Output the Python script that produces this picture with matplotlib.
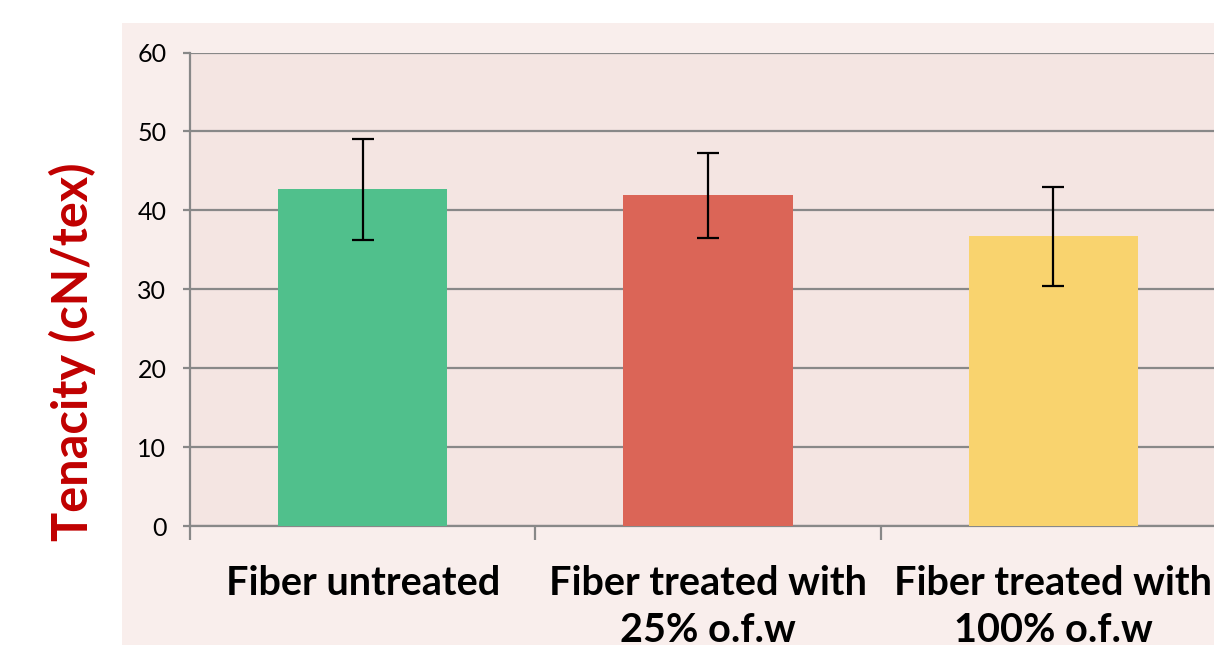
import numpy as np
import matplotlib.pyplot as plt
from matplotlib.patches import Rectangle

categories = ["Fiber untreated", "Fiber treated with\n25% o.f.w", "Fiber treated with\n100% o.f.w"]
tenacity = [42.7, 41.9, 36.7]
errors = [6.4, 5.4, 6.3]
colors = ["#50C08C", "#DB6557", "#F9D36E"]
yticks = [0, 10, 20, 30, 40, 50, 60]

W, H = 1214, 645
fig = plt.figure(figsize=(W / 100, H / 100), dpi=100)
fig.patches.append(Rectangle((122 / W, 0), 1 - 122 / W, 1 - 23 / H,
                             transform=fig.transFigure, facecolor="#F9EEEC",
                             edgecolor="none", zorder=-10))

ax = fig.add_axes([190 / W, (H - 526) / H, 1036 / W, (526 - 52.5) / H])
ax.set_facecolor("#F4E5E2")

x = np.arange(len(categories))
ax.bar(x, tenacity, width=0.49, color=colors, zorder=3)
ax.errorbar(x, tenacity, yerr=errors, fmt="none", ecolor="black",
            elinewidth=1.6, capsize=8, capthick=1.6, zorder=4)

ax.set_xlim(-0.5, 2.5)
ax.set_ylim(0, 60)
ax.set_yticks(yticks)
ax.yaxis.grid(True, color="#888888", linewidth=1.6, zorder=1)
ax.set_axisbelow(True)

for s in ["top", "right"]:
    ax.spines[s].set_visible(False)
for s in ["left", "bottom"]:
    ax.spines[s].set_color("#888888")
    ax.spines[s].set_linewidth(1.6)

ax.set_xticks([-0.5, 0.5, 1.5, 2.5])
ax.set_xticks(x, minor=True)
ax.set_xticklabels([])
ax.set_xticklabels(categories, minor=True, fontfamily="Lato", fontweight="bold",
                   fontsize=28.5, linespacing=1.35)
ax.tick_params(axis="x", which="major", length=10, width=1.6, color="#888888")
ax.tick_params(axis="x", which="minor", length=0, pad=28)
ax.tick_params(axis="y", length=5, width=1.6, color="#888888", pad=12,
               labelsize=18)
for lab in ax.get_yticklabels():
    lab.set_fontfamily("Lato")

fig.text(72 / W, 1 - 352 / H, "Tenacity (cN/tex)", rotation=90, ha="center",
         va="center", color="#C00000", fontsize=35, fontweight="bold",
         fontfamily="Lato")

fig.savefig("out.png", dpi=100)
